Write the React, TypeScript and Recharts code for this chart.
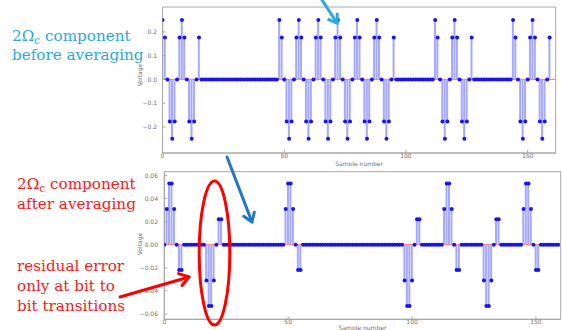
import { ComposedChart, Bar, Scatter, XAxis, YAxis, ReferenceLine, ReferenceArea } from "recharts";

// 2Ωc component before averaging, one value per sample (0..159)
const beforeValues: number[] = [
  0.25, 0.177, 0, -0.177, -0.25, -0.177, 0, 0.177, 0.25, 0.177, 0, -0.177, -0.25, -0.177, 0, 0.177,
  0, 0, 0, 0, 0, 0, 0, 0, 0, 0, 0, 0, 0, 0, 0, 0,
  0, 0, 0, 0, 0, 0, 0, 0, 0, 0, 0, 0, 0, 0, 0, 0,
  0.25, 0.177, 0, -0.177, -0.25, -0.177, 0, 0.177, 0.25, 0.177, 0, -0.177, -0.25, -0.177, 0, 0.177,
  0.25, 0.177, 0, -0.177, -0.25, -0.177, 0, 0.177, 0.25, 0.177, 0, -0.177, -0.25, -0.177, 0, 0.177,
  0.25, 0.177, 0, -0.177, -0.25, -0.177, 0, 0.177, 0.25, 0.177, 0, -0.177, -0.25, -0.177, 0, 0.177,
  0, 0, 0, 0, 0, 0, 0, 0, 0, 0, 0, 0, 0, 0, 0, 0,
  0.25, 0.177, 0, -0.177, -0.25, -0.177, 0, 0.177, 0.25, 0.177, 0, -0.177, -0.25, -0.177, 0, 0.177,
  0, 0, 0, 0, 0, 0, 0, 0, 0, 0, 0, 0, 0, 0, 0, 0,
  0.25, 0.177, 0, -0.177, -0.25, -0.177, 0, 0.177, 0.25, 0.177, 0, -0.177, -0.25, -0.177, 0, 0.177,
];

// 2Ωc component after averaging
const afterValues: number[] = [
  0, 0.031, 0.053, 0.053, 0.031, 0, -0.022, -0.022, 0, 0, 0, 0, 0, 0, 0, 0,
  0, -0.031, -0.053, -0.053, -0.031, 0, 0.022, 0.022, 0, 0, 0, 0, 0, 0, 0, 0,
  0, 0, 0, 0, 0, 0, 0, 0, 0, 0, 0, 0, 0, 0, 0, 0,
  0, 0.031, 0.053, 0.053, 0.031, 0, -0.022, -0.022, 0, 0, 0, 0, 0, 0, 0, 0,
  0, 0, 0, 0, 0, 0, 0, 0, 0, 0, 0, 0, 0, 0, 0, 0,
  0, 0, 0, 0, 0, 0, 0, 0, 0, 0, 0, 0, 0, 0, 0, 0,
  0, -0.031, -0.053, -0.053, -0.031, 0, 0.022, 0.022, 0, 0, 0, 0, 0, 0, 0, 0,
  0, 0.031, 0.053, 0.053, 0.031, 0, -0.022, -0.022, 0, 0, 0, 0, 0, 0, 0, 0,
  0, -0.031, -0.053, -0.053, -0.031, 0, 0.022, 0.022, 0, 0, 0, 0, 0, 0, 0, 0,
  0, 0.031, 0.053, 0.053, 0.031, 0, -0.022, -0.022, 0, 0, 0, 0, 0, 0, 0, 0,
];

const sampleTicks = [0, 50, 100, 150];
const beforeTicks = [-0.2, -0.1, 0, 0.1, 0.2];
const afterTicks = [-0.06, -0.04, -0.02, 0, 0.02, 0.04, 0.06];

const AXIS = "#a8a8a8";
const TICK_TXT = "#707070";
const STEM = "#a4a8ff";
const DOT = "#1c14e6";
const BASE = "#ff8a8a";
const LIGHT_BLUE = "#2aa9e0";
const RED = "#f52020";

const fmt = (digits: number) => (v: number) =>
  v === 0 ? (0).toFixed(digits) : (v < 0 ? "\u2212" : "") + Math.abs(v).toFixed(digits);

const dotShape = (p: any) => <circle cx={p.cx} cy={p.cy} r={2} fill={DOT} />;

type StemProps = {
  values: number[];
  width: number;
  height: number;
  margin: { top: number; right: number; bottom: number; left: number };
  xMax: number;
  yDomain: [number, number];
  yTicks: number[];
  digits: number;
  yAxisWidth: number;
  xAxisHeight: number;
  yTickMargin: number;
  xTickMargin: number;
};

function StemChart(props: StemProps) {
  const data = props.values.map((v, n) => ({ n, v }));
  return (
    <ComposedChart width={props.width} height={props.height} data={data} margin={props.margin}>
      <XAxis
        dataKey="n"
        type="number"
        domain={[0, props.xMax]}
        ticks={sampleTicks}
        allowDataOverflow
        stroke={AXIS}
        tickSize={-3}
        tickMargin={props.xTickMargin}
        height={props.xAxisHeight}
        tick={{ fontSize: 6, fill: TICK_TXT, fontFamily: "DejaVu Sans" }}
        label={{ value: "Sample number", position: "insideBottom", offset: 0, fontSize: 6, fill: TICK_TXT, fontFamily: "DejaVu Sans" }}
      />
      <YAxis
        type="number"
        domain={props.yDomain}
        ticks={props.yTicks}
        allowDataOverflow
        width={props.yAxisWidth}
        stroke={AXIS}
        tickSize={-3}
        tickMargin={props.yTickMargin}
        tickFormatter={fmt(props.digits)}
        tick={{ fontSize: 6, fill: TICK_TXT, fontFamily: "DejaVu Sans" }}
      />
      <ReferenceArea
        x1={0}
        x2={props.xMax}
        y1={props.yDomain[0]}
        y2={props.yDomain[1]}
        fill="none"
        fillOpacity={0}
        stroke={AXIS}
        strokeWidth={1}
      />
      <Bar dataKey="v" fill={STEM} barSize={2} isAnimationActive={false} />
      <ReferenceLine y={0} stroke={BASE} strokeWidth={1.2} segment={[{ x: 0, y: 0 }, { x: 159, y: 0 }]} />
      <Scatter dataKey="v" shape={dotShape} isAnimationActive={false} />
    </ComposedChart>
  );
}

function Arrow({ x1, y1, x2, y2, color, head = 10, w = 3 }: any) {
  const a = Math.atan2(y2 - y1, x2 - x1);
  const s = 0.6;
  const p1 = [x2 - head * Math.cos(a - s), y2 - head * Math.sin(a - s)];
  const p2 = [x2 - head * Math.cos(a + s), y2 - head * Math.sin(a + s)];
  return (
    <g stroke={color} strokeWidth={w} fill="none" strokeLinecap="round" strokeLinejoin="round">
      <line x1={x1} y1={y1} x2={x2} y2={y2} />
      <polyline points={`${p1[0]},${p1[1]} ${x2},${y2} ${p2[0]},${p2[1]}`} />
    </g>
  );
}

const serif = { fontFamily: "'DejaVu Serif', serif", fontSize: 15.2 };

export default function App() {
  return (
    <div style={{ position: "absolute", left: 0, top: 0, width: 562, height: 330, background: "#fff", overflow: "hidden" }}>
      <div style={{ position: "absolute", left: 0, top: 0 }}>
        <StemChart
          values={beforeValues}
          width={562}
          height={166}
          margin={{ top: 7, right: 6.3, bottom: 0, left: 0 }}
          xMax={161.5}
          yDomain={[-0.31, 0.305]}
          yTicks={beforeTicks}
          digits={1}
          yAxisWidth={162.5}
          xAxisHeight={13}
          yTickMargin={8.5}
          xTickMargin={4}
        />
      </div>
      <div style={{ position: "absolute", left: 0, top: 160 }}>
        <StemChart
          values={afterValues}
          width={562}
          height={170}
          margin={{ top: 11.7, right: 1.3, bottom: 0, left: 0 }}
          xMax={160}
          yDomain={[-0.0646, 0.0632]}
          yTicks={afterTicks}
          digits={2}
          yAxisWidth={164.3}
          xAxisHeight={10.7}
          yTickMargin={9.3}
          xTickMargin={3.7}
        />
      </div>
      <svg width={562} height={330} style={{ position: "absolute", left: 0, top: 0, pointerEvents: "none" }}>
        <text x={142} y={75} fontSize={6} fill={TICK_TXT} fontFamily="DejaVu Sans" textAnchor="middle" transform="rotate(-90 142 75)">
          Voltage
        </text>
        <text x={142} y={244} fontSize={6} fill={TICK_TXT} fontFamily="DejaVu Sans" textAnchor="middle" transform="rotate(-90 142 244)">
          Voltage
        </text>

        <text x={12} y={40.5} fill={LIGHT_BLUE} {...serif}>
          2Ω<tspan fontSize={10.5} dy={3}>c</tspan>
          <tspan dy={-3}> component</tspan>
        </text>
        <text x={12} y={60} fill={LIGHT_BLUE} {...serif}>before averaging</text>

        <text x={17} y={188.5} fill={RED} {...serif}>
          2Ω<tspan fontSize={10.5} dy={3}>c</tspan>
          <tspan dy={-3}> component</tspan>
        </text>
        <text x={17} y={208.5} fill={RED} {...serif}>after averaging</text>

        <text x={17} y={270.5} fill={RED} {...serif}>residual error</text>
        <text x={17} y={290.5} fill={RED} {...serif}>only at bit to</text>
        <text x={17} y={310.5} fill={RED} {...serif}>bit transitions</text>

        <ellipse cx={214.5} cy={253} rx={15.3} ry={72} fill="none" stroke="#ff0000" strokeWidth={3} />
        <Arrow x1={120} y1={297} x2={189} y2={277} color="#ff0000" head={11} />
        <Arrow x1={227} y1={157} x2={252} y2={222} color="#1f78c1" head={10} />
        <Arrow x1={322} y1={0} x2={337} y2={23} color={LIGHT_BLUE} head={9} />
      </svg>
    </div>
  );
}
